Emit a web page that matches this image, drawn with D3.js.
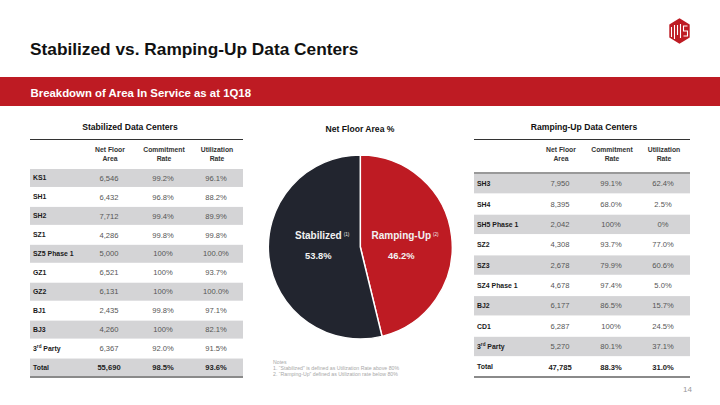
<!DOCTYPE html>
<html><head><meta charset="utf-8">
<script src="https://cdn.jsdelivr.net/npm/d3@7"></script>
<style>
html,body{margin:0;padding:0;background:#fff;}
svg{display:block;font-family:"Liberation Sans",Arial,sans-serif;}
</style></head>
<body>
<svg id="c" width="720" height="405"></svg>
<script>
// ---------- data ----------
const columnHeaders = [["Net Floor","Area"],["Commitment","Rate"],["Utilization","Rate"]];

const stabNames  = ["KS1","SH1","SH2","SZ1","SZ5 Phase 1","GZ1","GZ2","BJ1","BJ3","3rd Party"];
const stabArea   = [6546,6432,7712,4286,5000,6521,6131,2435,4260,6367];
const stabCommit = ["99.2%","96.8%","99.4%","99.8%","100%","100%","100%","99.8%","100%","92.0%"];
const stabUtil   = ["96.1%","88.2%","89.9%","99.8%","100.0%","93.7%","100.0%","97.1%","82.1%","91.5%"];
const stabTotal  = [55690,"98.5%","93.6%"];

const rampNames  = ["SH3","SH4","SH5 Phase 1","SZ2","SZ3","SZ4 Phase 1","BJ2","CD1","3rd Party"];
const rampArea   = [7950,8395,2042,4308,2678,4678,6177,6287,5270];
const rampCommit = ["99.1%","68.0%","100%","93.7%","79.9%","97.4%","86.5%","100%","80.1%"];
const rampUtil   = ["62.4%","2.5%","0%","77.0%","60.6%","5.0%","15.7%","24.5%","37.1%"];
const rampTotal  = [47785,"88.3%","31.0%"];

const pieLabels = ["Ramping-Up","Stabilized"];
const pieNotes  = ["(2)","(1)"];
const pieValues = [46.2,53.8];

const notes = ["Notes","1. \u201CStabilized\u201D is defined as Utilization Rate above 80%","2. \u201CRamping-Up\u201D defined as Utilization rate below 80%"];

// ---------- drawing ----------
const RED = "#BE1B23", DARK = "#22252F", BAND = "#D4D4D6";
const svg = d3.select("#c");
const fmt = d3.format(",");

// title
svg.append("text").attr("x",30).attr("y",55).attr("font-size",17.3).attr("font-weight","bold")
  .attr("fill","#111").text("Stabilized vs. Ramping-Up Data Centers");

// logo
(function(){
  const cx=679.5, cy=31, r=12.8;
  const hex = d3.range(6).map(i=>{const a=Math.PI/3*i - Math.PI/2; return [cx+r*Math.cos(a)*0.92, cy+r*Math.sin(a)];});
  const g = svg.append("g");
  g.append("path").attr("d","M"+hex.join("L")+"Z").attr("fill",RED);
  const w = {stroke:"#fff","stroke-width":1.1,fill:"none"};
  const p1 = g.append("path").attr("d",`M${cx-8},${cy-4} L${cx-8},${cy+6} M${cx-5},${cy-6} L${cx-5},${cy+8} M${cx-2},${cy-6} L${cx-2},${cy+4}`);
  const p2 = g.append("path").attr("d",`M${cx+1},${cy-7} L${cx+1},${cy+7} M${cx+8},${cy-5} L${cx+4},${cy-5} L${cx+4},${cy} L${cx+8},${cy} L${cx+8},${cy+5} L${cx+4},${cy+5}`);
  [p1,p2].forEach(p=>Object.entries(w).forEach(([k,v])=>p.attr(k,v)));
})();

// red band
svg.append("rect").attr("x",0).attr("y",77).attr("width",720).attr("height",29).attr("fill",RED);
svg.append("text").attr("x",30.5).attr("y",96.5).attr("font-size",11.4).attr("font-weight","bold")
  .attr("fill","#fff").text("Breakdown of Area In Service as at 1Q18");

function labelText(sel, name){
  const m = name.match(/^(\d)(rd)( .*)$/);
  if(m){
    sel.append("tspan").text(m[1]);
    sel.append("tspan").attr("font-size",4.6).attr("dy",-2.8).text(m[2]);
    sel.append("tspan").attr("dy",2.8).text(m[3]);
  } else sel.text(name);
}

function drawTable(cfg){
  const g = svg.append("g");
  g.append("text").attr("x",cfg.titleX).attr("y",130).attr("text-anchor","middle")
    .attr("font-size",8.6).attr("font-weight","bold").attr("fill","#111").text(cfg.title);
  g.append("line").attr("x1",cfg.x0).attr("x2",cfg.x1).attr("y1",139.5).attr("y2",139.5)
    .attr("stroke","#333").attr("stroke-width",1);
  // headers
  columnHeaders.forEach((h,i)=>{
    h.forEach((t,j)=>g.append("text").attr("x",cfg.cols[i]).attr("y",152+j*9).attr("text-anchor","middle")
      .attr("font-size",6.8).attr("font-weight","bold").attr("fill","#333").text(t));
  });
  const rows = cfg.names.map((n,i)=>({name:n,vals:[fmt(cfg.area[i]),cfg.commit[i],cfg.util[i]],total:false}));
  rows.push({name:"Total",vals:[fmt(cfg.total[0]),cfg.total[1],cfg.total[2]],total:true});
  const y = d3.scaleBand().domain(d3.range(rows.length)).range(cfg.yRange);
  const rg = g.selectAll("g.row").data(rows).join("g").attr("class","row")
    .attr("transform",(d,i)=>`translate(0,${y(i)})`);
  rg.filter((d,i)=>i%2===cfg.bandParity).append("rect").attr("x",cfg.x0).attr("width",cfg.x1-cfg.x0)
    .attr("y",0.5).attr("height",y.bandwidth()-1).attr("fill",BAND);
  rg.append("text").attr("x",cfg.x0+3).attr("y",y.bandwidth()/2+2.5).attr("font-size",6.9)
    .attr("font-weight","bold").attr("fill","#1a1a1a").each(function(d){labelText(d3.select(this),d.name);});
  rg.each(function(d){
    const s=d3.select(this);
    d.vals.forEach((v,i)=>s.append("text").attr("x",cfg.cols[i]-1).attr("y",y.bandwidth()/2+2.7)
      .attr("text-anchor","middle").attr("font-size",7.6).attr("font-weight",d.total?"bold":"normal")
      .attr("fill",d.total?"#222":"#555").text(v));
  });
  if(cfg.headerLine) g.append("line").attr("x1",cfg.x0).attr("x2",cfg.x1).attr("y1",cfg.yRange[0]-0.5).attr("y2",cfg.yRange[0]-0.5)
    .attr("stroke","#777").attr("stroke-width",1.6);
  g.append("line").attr("x1",cfg.x0).attr("x2",cfg.x1).attr("y1",cfg.yRange[1]).attr("y2",cfg.yRange[1])
    .attr("stroke","#8a8a8a").attr("stroke-width",2);
}

drawTable({title:"Stabilized Data Centers",titleX:130,x0:30,x1:243,cols:[110,164,217],
  names:stabNames,area:stabArea,commit:stabCommit,util:stabUtil,total:stabTotal,
  yRange:[168.5,377],bandParity:0,headerLine:false});
drawTable({title:"Ramping-Up Data Centers",titleX:584,x0:474,x1:690,cols:[561,612,664],
  names:rampNames,area:rampArea,commit:rampCommit,util:rampUtil,total:rampTotal,
  yRange:[173.5,377],bandParity:0,headerLine:true});

// pie
svg.append("text").attr("x",360).attr("y",132).attr("text-anchor","middle").attr("font-size",8.6)
  .attr("font-weight","bold").attr("fill","#111").text("Net Floor Area %");
const pie = d3.pie().sort(null).value(d=>d)(pieValues);
const arc = d3.arc().innerRadius(0).outerRadius(92);
const pg = svg.append("g").attr("transform","translate(360.3,247)");
pg.selectAll("path").data(pie).join("path").attr("d",arc)
  .attr("fill",(d,i)=>i===0?RED:DARK).attr("stroke","#fff").attr("stroke-width",1.5);
const labelPos = [[41,-8],[-42,-8]];
pie.forEach((d,i)=>{
  const [lx,ly]=labelPos[i];
  const t = pg.append("text").attr("x",lx).attr("y",ly).attr("text-anchor","middle")
    .attr("font-size",10).attr("font-weight","bold").attr("fill","#f2f2f2").text(pieLabels[i]);
  const bb = t.node().getComputedTextLength();
  pg.append("text").attr("x",lx+bb/2+2).attr("y",ly-3).attr("font-size",4.6).attr("fill","#eee").text(pieNotes[i]);
  pg.append("text").attr("x",lx).attr("y",ly+20).attr("text-anchor","middle").attr("font-size",9.4)
    .attr("font-weight","bold").attr("fill","#f2f2f2").text(d3.format(".1f")(d.data)+"%");
});

// notes
svg.selectAll("text.note").data(notes).join("text").attr("class","note").attr("x",273)
  .attr("y",(d,i)=>364+i*6.2).attr("font-size",5.2).attr("fill","#a8a8a8").text(d=>d);

// page number
svg.append("text").attr("x",692).attr("y",392).attr("text-anchor","end").attr("font-size",8)
  .attr("fill","#999").text("14");
</script>
</body></html>
